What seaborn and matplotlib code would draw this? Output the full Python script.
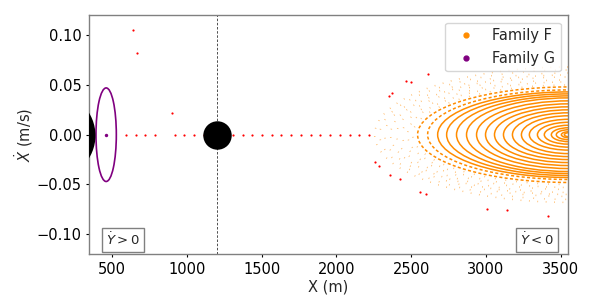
import matplotlib
matplotlib.use("Agg")
import matplotlib.pyplot as plt
import seaborn as sns
from matplotlib.patches import Ellipse
from matplotlib.lines import Line2D

# ---------------- data ----------------
# Bodies
body_x = [102, 1200]
body_y = [0.0, 0.0]

# Red crossings along Xdot = 0
red_line_x = [593, 658, 723, 788, 918, 983, 1048, 1113, 1178, 1243, 1308, 1373,
              1438, 1503, 1568, 1633, 1698, 1763, 1828, 1893, 1958, 2023, 2088,
              2153, 2218]
red_line_y = [0.0] * len(red_line_x)
# Scattered red points
red_sc_x = [642, 669, 904, 2612, 2467, 2501, 2372, 2350, 2256, 2283, 2357, 2423,
            2561, 2597, 3010, 3138, 3412]
red_sc_y = [0.105, 0.082, 0.022, 0.061, 0.054, 0.053, 0.042, 0.039, -0.027,
            -0.031, -0.040, -0.045, -0.058, -0.060, -0.075, -0.076, -0.082]

# Family G: periodic orbit (center, half-width, half-height) and its fixed point
g_center_x = [461]
g_center_y = [0.0]
g_half_w = [68]
g_half_h = [0.047]

# Family F: nested invariant rings around (3555, 0)
f_center_x = 3555
f_ring_left = [2256, 2290, 2323, 2362, 2403, 2440, 2476, 2510, 2543, 2610,
               2677, 2737, 2803, 2870, 2937, 2997, 3057, 3117, 3177, 3237, 3290,
               3344, 3390, 3437, 3470, 3504, 3524]
f_ring_half_h = [0.068, 0.065, 0.062, 0.060, 0.058, 0.055, 0.053, 0.050, 0.048,
                 0.045, 0.043, 0.041, 0.039, 0.037, 0.034, 0.031, 0.028,
                 0.025, 0.022, 0.019, 0.0155, 0.0125, 0.0095, 0.007, 0.005,
                 0.003, 0.002]
f_ring_style = ["sparse"] * 8 + ["dash"] * 2 + ["solid"] * 17

x_ticks = [500, 1000, 1500, 2000, 2500, 3000, 3500]
y_ticks = [-0.10, -0.05, 0.00, 0.05, 0.10]

# ---------------- plot ----------------
sns.set_style("white")
plt.rcParams["font.family"] = ["DejaVu Sans"]
fig = plt.figure(figsize=(5.98, 2.99), dpi=100)
ax = fig.add_axes([0.149, 0.150, 0.801, 0.799])

orange = "darkorange"
purple = "purple"

# Family F rings
styles = {"sparse": (0, (0.5, 6)), "dash": (0, (2.0, 1.5)), "solid": "-"}
for i, (left, hh, st) in enumerate(zip(f_ring_left, f_ring_half_h, f_ring_style)):
    w = 2 * (f_center_x - left)
    ls = styles[st]
    if st == "sparse":
        ls = (i * 1.3, (0.5, 5 + (i % 3) * 1.5))
    e = Ellipse((f_center_x, 0), width=w, height=2 * hh, fill=False,
                edgecolor=orange, lw=1.1, linestyle=ls,
                alpha=0.6 if st == "sparse" else 1.0, zorder=2)
    ax.add_patch(e)

# Family G orbit
for cx, cy, hw, hh in zip(g_center_x, g_center_y, g_half_w, g_half_h):
    ax.add_patch(Ellipse((cx, cy), width=2 * hw, height=2 * hh, fill=False,
                         edgecolor=purple, lw=1.2, zorder=3))
sns.scatterplot(x=g_center_x, y=g_center_y, color=purple, s=6, linewidth=0,
                ax=ax, zorder=4)

# red points
sns.scatterplot(x=red_line_x, y=red_line_y, color="red", s=2.5, linewidth=0,
                ax=ax, zorder=3)
sns.scatterplot(x=red_sc_x, y=red_sc_y, color="red", s=2.5, linewidth=0,
                ax=ax, zorder=3)

# bodies
sns.scatterplot(x=body_x[:1], y=body_y[:1], color="black", s=3830, linewidth=0,
                ax=ax, zorder=5)
sns.scatterplot(x=body_x[1:], y=body_y[1:], color="black", s=420, linewidth=0,
                ax=ax, zorder=5)

ax.axvline(1200, color="black", lw=0.6, ls=(0, (3, 2)), alpha=0.8, zorder=1)

ax.set_xlim(347, 3549)
ax.set_ylim(-0.12, 0.12)
ax.set_xticks(x_ticks)
ax.set_yticks(y_ticks)
ax.set_yticklabels([f"{v:.2f}".replace("-", "\u2212") for v in y_ticks])
ax.tick_params(axis="both", labelsize=10.5, direction="out", length=2.5,
               width=0.8, pad=3, colors="black", bottom=True, left=True)
for sp in ax.spines.values():
    sp.set_color("gray")
    sp.set_linewidth(1.0)

ax.set_xlabel("X (m)", fontsize=10.5, labelpad=2)
ax.set_ylabel(r"$\dot{X}$ (m/s)", fontsize=10.5, labelpad=1)

bbox = dict(boxstyle="square,pad=0.3", fc="white", ec="gray", lw=1.0)
ax.text(0.035, 0.024, r"$\dot{Y} > 0$", transform=ax.transAxes, fontsize=9.5,
        ha="left", va="bottom", bbox=bbox, zorder=6)
ax.text(0.970, 0.024, r"$\dot{Y} < 0$", transform=ax.transAxes, fontsize=9.5,
        ha="right", va="bottom", bbox=bbox, zorder=6)

handles = [Line2D([], [], marker="o", ls="", color=orange, markersize=3.5,
                  label="Family F"),
           Line2D([], [], marker="o", ls="", color=purple, markersize=3.5,
                  label="Family G")]
leg = ax.legend(handles=handles, loc="upper right", fontsize=10.5, frameon=True)
leg.set_zorder(7)

fig.savefig("out.png", dpi=100)
